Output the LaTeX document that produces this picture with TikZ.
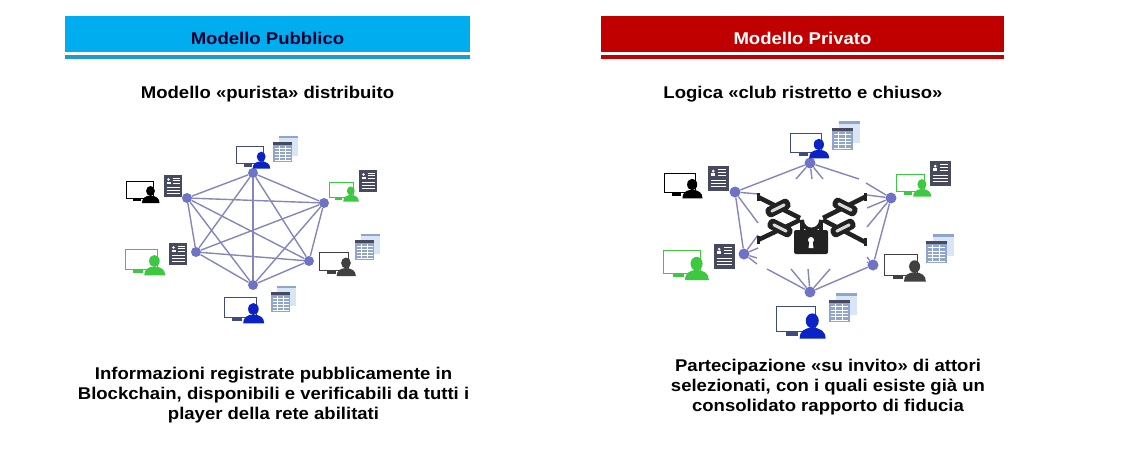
\documentclass[tikz,border=0pt]{standalone}
\usepackage{fontspec}
\setmainfont[FakeStretch=1.09]{Liberation Sans}
\usetikzlibrary{positioning}
\definecolor{skyband}{HTML}{00AEEF}
\definecolor{skyline}{HTML}{1C9CCB}
\definecolor{redband}{HTML}{C00000}
\definecolor{hubblue}{HTML}{6F73C4}
\definecolor{edgeblue}{HTML}{8486BC}
\definecolor{userblue}{HTML}{0B22C4}
\definecolor{navy}{HTML}{3F4A7E}
\definecolor{usergreen}{HTML}{3CC83F}
\definecolor{userdark}{HTML}{404040}
\definecolor{docdark}{HTML}{474A5E}
\definecolor{docblue}{HTML}{8FA5CC}
\definecolor{docpale}{HTML}{D8E5F4}
\definecolor{lockblack}{HTML}{222222}
\tikzset{
  hub/.style={circle,fill=hubblue,inner sep=0pt,minimum size=#1},
  hub/.default=10pt,
  edge/.style={draw=edgeblue,line width=1.4pt},
  band/.style={font=\bfseries\fontsize{17}{20}\selectfont},
  head/.style={font=\bfseries\fontsize{17}{20}\selectfont,text=black},
  caption/.style={font=\bfseries\fontsize{17}{20}\selectfont,text=black,align=center},
  pics/usericon/.style 2 args={code={
    \draw[#2,line width=1pt,fill=white] (0,0) rectangle (27,17);
    \fill[#2] (7,17) rectangle (15,20);
    \fill[#1] (16,22) .. controls (16,17) and (19,15) .. (24.5,14.5)
       .. controls (30,15) and (33.5,17) .. (33.5,22) -- cycle;
    \fill[#1] (24.5,10) ellipse (4.4 and 5);
  }},
  pics/darkdoc/.style={code={
    \fill[docdark] (0,0) rectangle (18,22);
    \fill[white] (4.5,4.5) circle (1.3);
    \fill[white] (2.5,9) rectangle (6.5,6.5);
    \foreach \y in {3,5.5,8}{\draw[white,line width=.5pt] (8.5,\y)--(16,\y);}
    \foreach \y in {12,15,18}{\draw[white,line width=.5pt] (2.5,\y)--(16,\y);}
  }},
  pics/tabledoc/.style={code={
    \fill[docpale] (6,-6) rectangle (25,14);
    \fill[docblue] (6,-6) rectangle (25,-4);
    \fill[docblue] (0,0) rectangle (19,20);
    \fill[docdark] (0,0) rectangle (19,2.5);
    \foreach \y in {6,9,12,15,18}{\draw[white,line width=.4pt] (1.5,\y)--(17.5,\y);}
    \foreach \x in {6,12}{\draw[white,line width=.4pt] (\x,4)--(\x,19);}
  }},
  pics/chainlink/.style={code={
    \fill[lockblack,rounded corners=4pt] (-13,-5.5) rectangle (13,5.5);
    \fill[white!85!black,rounded corners=1pt] (-8,-1.5) rectangle (8,1.5);
  }}
}
\begin{document}
\begin{tikzpicture}[x=1pt,y=-1pt]
  \useasboundingbox (0,0) rectangle (1121,469);

  % bands
  \fill[skyband] (65,16) rectangle (470,52);
  \fill[skyline] (65,55) rectangle (470,58.5);
  \fill[redband] (601,16) rectangle (1004,52);
  \fill[redband] (601,55) rectangle (1004,58.5);
  \node[band,text=black!80!blue] (pubtitle) at (267.5,38) {Modello Pubblico};
  \node[band,text=white] (privtitle) at (802.5,38) {Modello Privato};

  \node[head] (pubhead) at (267.5,94.5) {Modello «purista» distribuito};
  \node[head] (privhead) at (803,94.5) {Logica «club ristretto e chiuso»};

  % left network
  \node[hub] (a1) at (253,173) {};
  \node[hub] (a2) at (324,203) {};
  \node[hub] (a3) at (309,261) {};
  \node[hub] (a4) at (253,285) {};
  \node[hub] (a5) at (196,252) {};
  \node[hub] (a6) at (187,198) {};
  \foreach \p/\q in {a1/a2,a1/a3,a1/a4,a1/a5,a1/a6,a2/a3,a2/a4,a2/a5,a2/a6,
                     a3/a4,a3/a5,a3/a6,a4/a5,a4/a6,a5/a6}{
    \draw[edge] (\p)--(\q);
  }
  \pic at (236.7,146.7) {usericon={userblue}{navy}};
  \pic at (329,182) [scale=.89] {usericon={usergreen}{usergreen}};
  \pic at (319,252) [scale=1.1] {usericon={userdark}{userdark}};
  \pic at (224,297) [scale=1.2] {usericon={userblue}{navy}};
  \pic at (125,249) [scale=1.2] {usericon={usergreen}{usergreen}};
  \pic at (126,181) {usericon={black}{black}};
  \pic at (164,175) {darkdoc};
  \pic at (359,170) {darkdoc};
  \pic at (169,243) {darkdoc};
  \pic at (273,142) {tabledoc};
  \pic at (355,240) {tabledoc};
  \pic at (271,292) {tabledoc};

  % right network
  \node[hub=11pt] (b1) at (810,163) {};
  \node[hub=11pt] (b2) at (891,198) {};
  \node[hub=11pt] (b3) at (873,265) {};
  \node[hub=11pt] (b4) at (810,292) {};
  \node[hub=11pt] (b5) at (744,254) {};
  \node[hub=11pt] (b6) at (735,192) {};
  \foreach \p/\q in {b1/b6,b6/b5,b4/b3,b3/b2}{
    \draw[edge] (\p)--(\q);
  }
  % stubs cut off by the chains
  \foreach \p/\x/\y [count=\i] in {b1/796/179,b1/812/179,b1/823/179,b1/859/179,
      b2/867/195,b2/867/208,b2/867/227,b2/866/183,
      b3/867/257,b3/867/262,
      b4/791/269,b4/808/269,b4/830/269,b4/767/269,
      b5/758/235,b5/758/248,b5/757/258,b5/757/264,
      b6/758/194,b6/758/223}{
    \coordinate (s\i) at (\x,\y);
    \draw[edge] (\p)--(s\i);
  }
  % lock and chains
  \foreach \x/\y/\u/\v in {758/197/800/218,758/240/800/220,865/197/823/218,865/242/823/220}{
    \draw[lockblack,line width=4.5pt] (\x,\y)--(\u,\v);
    \draw[lockblack,line width=3pt] (\x,\y-4)--(\x,\y+4);
  }
  \pic at (778,208) [rotate=27] {chainlink};
  \pic at (780,228) [rotate=-27] {chainlink};
  \pic at (845,207) [rotate=-27] {chainlink};
  \pic at (843,228) [rotate=27] {chainlink};
  \fill[white] (803,231) -- (803,220) arc[start angle=180,end angle=0,radius=8.5] -- (820,231) -- cycle;
  \draw[lockblack,line width=3.8pt] (802,231) -- (802,220) arc[start angle=180,end angle=0,radius=9.5] -- (821,231);
  \fill[lockblack,rounded corners=2pt] (794,230) rectangle (828,254);
  \fill[white] (811,240) circle (3);
  \fill[white] (809.5,241) -- (812.5,241) -- (813.5,248) -- (808.5,248) -- cycle;

  \pic at (790.7,133) [scale=1.15] {usericon={userblue}{navy}};
  \pic at (896.7,174) [scale=1.03] {usericon={usergreen}{usergreen}};
  \pic at (884,254) [scale=1.25] {usericon={userdark}{userdark}};
  \pic at (776,306) [scale=1.48] {usericon={userblue}{navy}};
  \pic at (663,250) [scale=1.37] {usericon={usergreen}{usergreen}};
  \pic at (664,173) [scale=1.15] {usericon={black}{black}};
  \pic at (708,166) [scale=1.15] {darkdoc};
  \pic at (930,161) [scale=1.15] {darkdoc};
  \pic at (714,244) [scale=1.15] {darkdoc};
  \pic at (832,128) [scale=1.1] {tabledoc};
  \pic at (926,241) [scale=1.1] {tabledoc};
  \pic at (829,300) [scale=1.1] {tabledoc};

  % captions
  \node[caption] (pubtext) at (273.5,395) {Informazioni registrate pubblicamente in\\Blockchain, disponibili e verificabili da tutti i\\player della rete abilitati};
  \node[caption] (privtext) at (828,387) {Partecipazione «su invito» di attori\\selezionati, con i quali esiste già un\\consolidato rapporto di fiducia};
\end{tikzpicture}
\end{document}
